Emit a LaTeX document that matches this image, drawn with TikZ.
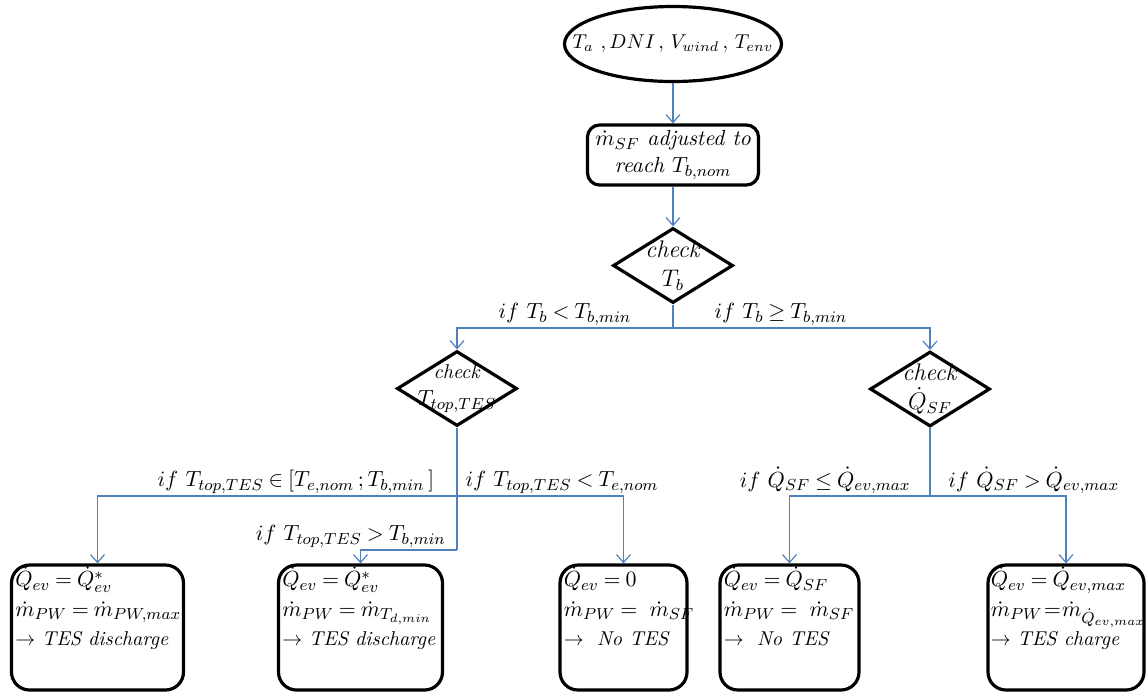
\documentclass[tikz,border=0pt,12pt]{standalone}
\usepackage{amsmath}
\usepackage{xcolor}
\usepackage{tikz}
\usetikzlibrary{arrows.meta, positioning, shapes.geometric, calc}

\definecolor{flowblue}{RGB}{79,129,189}
\thickmuskip=4mu plus 2mu

\begin{document}
\begin{tikzpicture}[x=0.5pt, y=-0.5pt,
  wire/.style={draw=flowblue, line width=0.6pt},
  link/.style={wire, -{Straight Barb[length=4pt, width=7pt]}},
  cond/.style={inner sep=1pt, font=\small},
  inputnode/.style={ellipse, draw, line width=1.6pt, minimum width=108.5pt, minimum height=37.5pt, inner sep=0pt},
  process/.style={draw, line width=1.6pt, rounded corners=6pt, minimum width=85.5pt, minimum height=30pt, align=center, inner sep=1pt, font=\small},
  decision/.style={diamond, draw, line width=1.6pt, minimum width=60pt, minimum height=37.5pt, inner sep=0pt},
  casebox/.style={draw, line width=1.6pt, rounded corners=9pt, minimum width=#1, minimum height=62.5pt, inner sep=0pt},
  casetext/.style={anchor=north west, align=left, inner xsep=2.5pt, inner ysep=1.5pt, font=\small}]

% Page frame
\useasboundingbox (0,0) rectangle (1146,693);

% Top of the chart
\node[inputnode, label={[font=\footnotesize]center:{$T_a\,\,,DNI\,,\,V_{wind}\,,\,T_{env}$}}] (input) at (673,44) {};
\node[process] (adjust) at (673,155) {$\dot m_{SF}$ \textit{adjusted to}\\ \textit{reach} $T_{b,nom}$};
\node[decision, label={[align=center, inner sep=0pt]center:{\textit{check}\\ $T_b$}}] (chkb) at (673,265.5) {};

% Second level checks
\node[decision, label={[align=center, inner sep=0pt, font=\small]center:{\footnotesize\textit{check}\\ $T_{top,TES}$}}] (chktes) at (457,388.5) {};
\node[decision, label={[align=center, inner sep=0pt]center:{\textit{check}\\ $\dot Q_{SF}$}}] (chkq) at (930,389) {};

% Cases
\node[casebox=86pt, label={[casetext]north west:{$\dot Q_{ev} = \dot Q^{*}_{ev}$\\[1pt] $\dot m_{PW} = \dot m_{PW,max}$\\[1pt] {\footnotesize$\rightarrow$ \textit{TES discharge}}}}] (case1) at (97.5,627.5) {};
\node[casebox=82pt, label={[casetext]north west:{$\dot Q_{ev} = \dot Q^{*}_{ev}$\\[1pt] $\dot m_{PW} = \dot m_{T_{d,min}}$\\[1pt] {\footnotesize$\rightarrow$ \textit{TES discharge}}}}] (case2) at (360.5,627.5) {};
\node[casebox=63.5pt, label={[casetext]north west:{$\dot Q_{ev} = 0$\\[1pt] $\dot m_{PW} = \ \dot m_{SF}$\\[1pt] {\footnotesize$\rightarrow$ \ \textit{No TES}}}}] (case3) at (623.5,627.5) {};
\node[casebox=69.5pt, label={[casetext]north west:{$\dot Q_{ev} = \dot Q_{SF}$\\[1pt] $\dot m_{PW} = \ \dot m_{SF}$\\[1pt] {\footnotesize$\rightarrow$ \ \textit{No TES}}}}] (case4) at (789.5,627.5) {};
\node[casebox=78pt, label={[casetext, inner xsep=2pt]north west:{$\dot Q_{ev} = \dot Q_{ev,max}$\\[1pt] $\dot m_{PW}\!=\!\dot m_{\dot Q_{ev,max}}$\\[1pt] {\footnotesize$\rightarrow$ \textit{TES charge}}}}] (case5) at (1066,627.5) {};

% Flow from the inputs
\draw[link] (input.south) -- (adjust.north);
\draw[link] (adjust.south) -- (chkb.north);

% Split on T_b
\coordinate (splitb) at (673,328);
\draw[wire] (chkb.south) -- (splitb);
\draw[link] (splitb) -| node[pos=0.25, above, cond] {$if\ T_b < T_{b,min}$} (chktes.north);
\draw[link] (splitb) -| node[pos=0.21, above, cond] {$if\ T_b \geq T_{b,min}$} (chkq.north);

% Split on T_top,TES
\coordinate (splitt) at (457,496);
\coordinate (bendt) at (457,550);
\draw[wire] (chktes.south) -- (bendt);
\draw[link] (splitt) -| node[pos=0.028, anchor=south east, cond] {$if\ T_{top,TES} \in [T_{e,nom}\,; T_{b,min}\,]$} (case1.north);
\draw[link] (splitt) -| node[pos=0.018, anchor=south west, cond] {$if\ T_{top,TES} < T_{e,nom}$} (case3.north);
\draw[link] (bendt) -| node[pos=0.045, anchor=south east, cond] {$if\ T_{top,TES} > T_{b,min}$} (case2.north);

% Split on Q_SF
\coordinate (splitq) at (930,496);
\draw[wire] (chkq.south) -- (splitq);
\draw[link] (splitq) -| node[pos=0.06, anchor=south east, cond] {$if\ \dot Q_{SF} \leq \dot Q_{ev,max}$} (case4.north);
\draw[link] (splitq) -| node[pos=0.058, anchor=south west, cond] {$if\ \dot Q_{SF} > \dot Q_{ev,max}$} (case5.north);

\end{tikzpicture}
\end{document}
